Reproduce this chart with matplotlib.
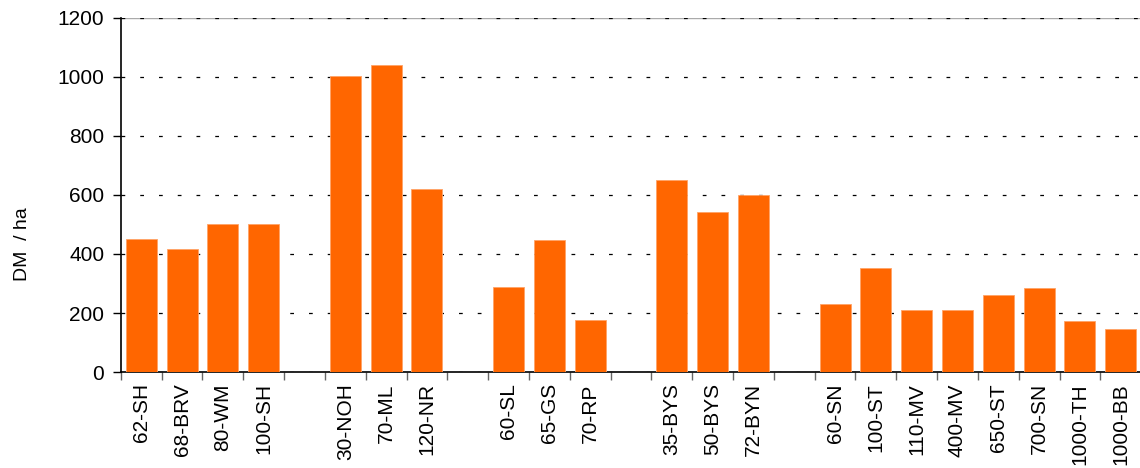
import matplotlib
matplotlib.use("Agg")
import matplotlib.pyplot as plt
import numpy as np

plt.rcParams['font.family'] = ['Liberation Sans', 'DejaVu Sans']

# groups of sites, an empty slot sits between groups
groups = [
    ["62-SH", "68-BRV", "80-WM", "100-SH"],
    ["30-NOH", "70-ML", "120-NR"],
    ["60-SL", "65-GS", "70-RP"],
    ["35-BYS", "50-BYS", "72-BYN"],
    ["60-SN", "100-ST", "110-MV", "400-MV", "650-ST", "700-SN", "1000-TH", "1000-BB"],
]
values = [
    [450, 418, 501, 501],
    [1002, 1040, 620],
    [288, 447, 177],
    [651, 541, 600],
    [231, 353, 210, 210, 261, 284, 173, 145],
]

labels, heights, pos = [], [], []
slot = 0
for gi, (g, v) in enumerate(zip(groups, values)):
    for name, val in zip(g, v):
        labels.append(name)
        heights.append(val)
        pos.append(slot)
        slot += 1
    if gi < len(groups) - 1:
        slot += 1  # blank slot
n_slots = slot

fig = plt.figure(figsize=(11.4, 4.68), dpi=100)
ax = fig.add_axes([0.106, 0.205, 0.895, 0.757])

ax.bar(pos, heights, width=0.76, color="#FF6600", edgecolor="#FFA366", linewidth=0.6, zorder=3)

ax.set_xlim(-0.5, n_slots - 0.5)
ax.set_ylim(0, 1200)
ax.set_yticks(np.arange(0, 1201, 200))
ax.tick_params(axis='y', labelsize=15, length=6, width=1, direction='out', pad=6)

# category labels at slot centres, tick marks on slot boundaries
ax.set_xticks(pos)
ax.set_xticklabels(labels, rotation=90, fontsize=15)
ax.tick_params(axis='x', which='major', length=0, pad=8)
ax.set_xticks(np.arange(-0.5, n_slots - 0.5, 1), minor=True)
ax.tick_params(axis='x', which='minor', length=6, width=1, color='#666666', direction='out')

ax.yaxis.grid(True, linestyle=(0, (3, 12)), color='black', linewidth=0.9, zorder=0)
ax.axhline(1200, color='#aaaaaa', linewidth=1, zorder=1)

for s in ['top', 'right']:
    ax.spines[s].set_visible(False)
ax.spines['left'].set_linewidth(1.2)
ax.spines['bottom'].set_linewidth(1.2)

ax.set_ylabel("DM  / ha", fontsize=14)
ax.yaxis.set_label_coords(-0.088, 0.36)

fig.savefig("out.png", dpi=100)
